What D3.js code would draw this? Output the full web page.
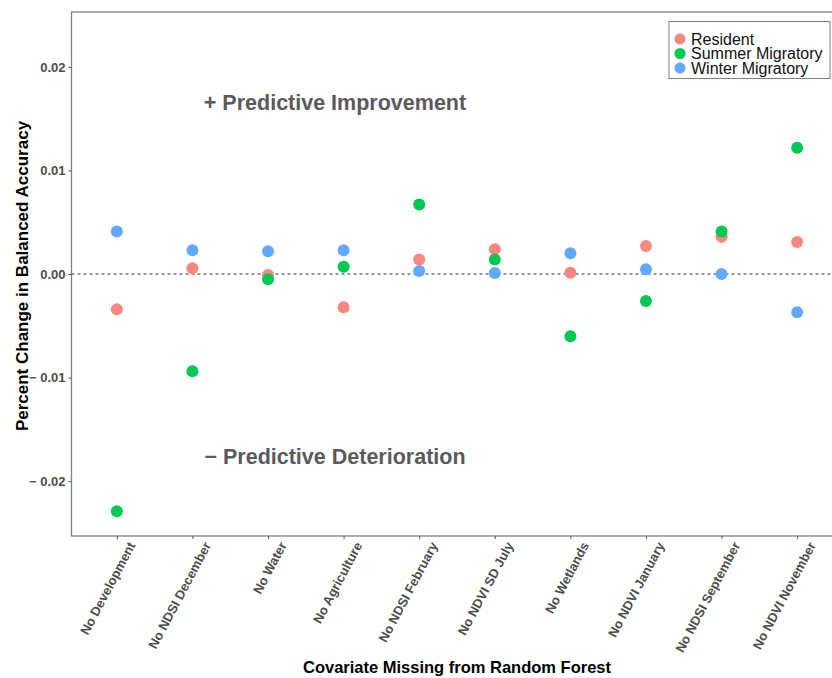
<!DOCTYPE html>
<html>
<head>
<meta charset="utf-8">
<script src="https://cdn.jsdelivr.net/npm/d3@7"></script>
<style>
  body { margin: 0; background: #fff; }
  text { font-family: "Liberation Sans", Arial, sans-serif; }
</style>
</head>
<body>
<svg id="chart" width="832" height="678"></svg>
<script>
// --- Data ---
const categories = ["No Development", "No NDSI December", "No Water", "No Agriculture",
    "No NDSI February", "No NDVI SD July", "No Wetlands", "No NDVI January",
    "No NDSI September", "No NDVI November"];
const resident = [-0.0034, 0.00055, -0.0001, -0.0032, 0.0014, 0.0024, 0.00013, 0.0027, 0.0036, 0.0031];
const summerMigratory = [-0.0229, -0.0094, -0.0005, 0.0007, 0.0067, 0.0014, -0.0060, -0.0026, 0.0041, 0.0122];
const winterMigratory = [0.0041, 0.0023, 0.0022, 0.0023, 0.0003, 0.0001, 0.0020, 0.00045, 0.0, -0.0037];
const yTicks = [0.02, 0.01, 0.0, -0.01, -0.02];
const yTickLabels = ["0.02", "0.01", "0.00", "\u2212 0.01", "\u2212 0.02"];
const seriesNames = ["Resident", "Summer Migratory", "Winter Migratory"];
const seriesColors = ["#F8877F", "#00C853", "#61A8FF"];

(function () {
    "use strict";

    var svg = d3.select("#chart");
    var panel = { left: 71.5, top: 12, right: 842.5, bottom: 536 };

    var x = d3.scalePoint().domain(categories).range([panel.left, panel.right]).padding(0.6);
    var y = d3.scaleLinear().domain([-0.0253, 0.0253]).range([panel.bottom, panel.top]);

    // Panel border
    svg.append("rect")
        .attr("x", panel.left).attr("y", panel.top)
        .attr("width", panel.right - panel.left).attr("height", panel.bottom - panel.top)
        .attr("fill", "none").attr("stroke", "#808080").attr("stroke-width", 1.3);

    // Zero line
    svg.append("line")
        .attr("x1", panel.left).attr("x2", panel.right)
        .attr("y1", y(0)).attr("y2", y(0))
        .attr("stroke", "#333").attr("stroke-width", 1)
        .attr("stroke-dasharray", "3,3");

    // Y axis
    var yAxis = svg.append("g")
        .attr("transform", "translate(" + panel.left + ",0)")
        .call(d3.axisLeft(y).tickValues(yTicks).tickSize(3).tickPadding(3)
            .tickFormat(function (d, i) { return yTickLabels[i]; }));
    yAxis.select(".domain").remove();
    yAxis.selectAll("line").attr("stroke", "#555");
    yAxis.selectAll("text")
        .attr("font-size", 13).attr("font-weight", "bold").attr("fill", "#4D4D4D");

    // X axis
    var xAxis = svg.append("g")
        .attr("transform", "translate(0," + panel.bottom + ")")
        .call(d3.axisBottom(x).tickSize(3).tickFormat(""));
    xAxis.select(".domain").remove();
    xAxis.selectAll("line").attr("stroke", "#555");

    svg.append("g").selectAll("text")
        .data(categories)
        .join("text")
        .attr("transform", function (d) {
            return "translate(" + (x(d) + 15) + "," + (panel.bottom + 7) + ") rotate(-62)";
        })
        .attr("text-anchor", "end")
        .attr("dy", "0.35em")
        .attr("font-size", 13).attr("font-weight", "bold").attr("fill", "#4D4D4D")
        .text(function (d) { return d; });

    // Axis titles
    svg.append("text")
        .attr("x", 457).attr("y", 673)
        .attr("text-anchor", "middle")
        .attr("font-size", 16.5).attr("font-weight", "bold").attr("fill", "#000")
        .text("Covariate Missing from Random Forest");

    svg.append("text")
        .attr("transform", "translate(28,276) rotate(-90)")
        .attr("text-anchor", "middle")
        .attr("font-size", 17).attr("font-weight", "bold").attr("fill", "#000")
        .text("Percent Change in Balanced Accuracy");

    // Annotations
    svg.append("text")
        .attr("x", 335).attr("y", y(0.0158))
        .attr("text-anchor", "middle")
        .attr("font-size", 21.5).attr("font-weight", "bold").attr("fill", "#5A5A5A")
        .text("+ Predictive Improvement");
    svg.append("text")
        .attr("x", 335).attr("y", y(-0.0183))
        .attr("text-anchor", "middle")
        .attr("font-size", 21.5).attr("font-weight", "bold").attr("fill", "#5A5A5A")
        .text("\u2212 Predictive Deterioration");

    // Points
    var allSeries = [resident, summerMigratory, winterMigratory];
    allSeries.forEach(function (vals, s) {
        svg.append("g").selectAll("circle")
            .data(vals)
            .join("circle")
            .attr("cx", function (d, i) { return x(categories[i]); })
            .attr("cy", function (d) { return y(d); })
            .attr("r", 6)
            .attr("fill", seriesColors[s]);
    });

    // Legend
    var legend = svg.append("g");
    legend.append("rect")
        .attr("x", 669).attr("y", 21.5).attr("width", 161).attr("height", 57)
        .attr("fill", "#fff").attr("stroke", "#808080").attr("stroke-width", 1);
    seriesNames.forEach(function (name, i) {
        var cy = 39 + i * 14.5;
        legend.append("circle")
            .attr("cx", 680).attr("cy", cy).attr("r", 5.5)
            .attr("fill", seriesColors[i]);
        legend.append("text")
            .attr("x", 691).attr("y", cy).attr("dy", "0.35em")
            .attr("font-size", 16).attr("fill", "#111")
            .text(name);
    });
})();
</script>
</body>
</html>
